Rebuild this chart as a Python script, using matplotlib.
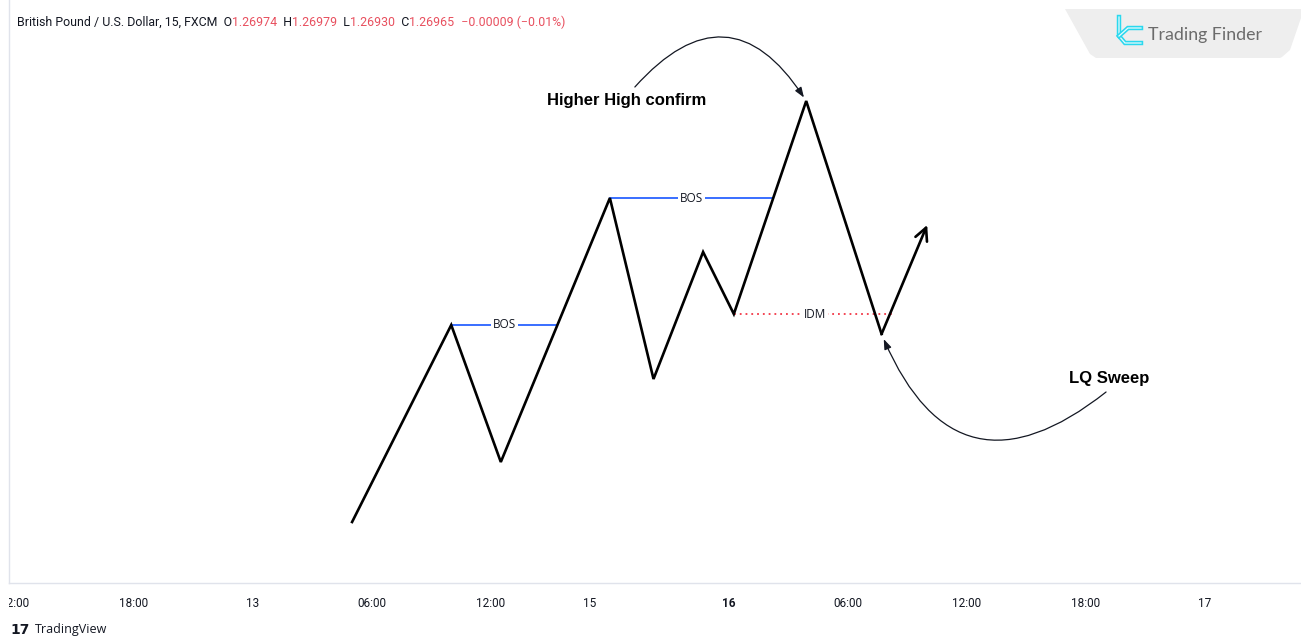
"""Smart-money structure sketch: BOS / IDM / LQ sweep on a GBPUSD 15m chart."""

import matplotlib

matplotlib.use("Agg")
import matplotlib.pyplot as plt
from matplotlib.patches import Polygon
from matplotlib.transforms import Bbox, TransformedBbox

W, H = 1301, 637

# time axis in hours relative to "13" (day 13, 00:00), price in GBPUSD
tick_hours = [-12, -6, 0, 6, 12, 17, 24, 30, 36, 42, 48]
tick_labels = ["12:00", "18:00", "13", "06:00", "12:00", "15", "16",
               "06:00", "12:00", "18:00", "17"]
x_range = (-12.3, 52.85)
price_range = (1.26600, 1.27183)

swing_hours = [5.0, 10.0, 12.5, 18.0, 20.2, 22.7, 24.25, 27.9, 31.7, 34.0]
swing_price = [1.26661, 1.26858, 1.26721, 1.26985, 1.26804,
               1.26931, 1.26869, 1.27082, 1.26849, 1.26958]

idm_end_hour = 32.4

hh_text_pos = (18.86, 1.27083)
hh_arrow_start = (19.26, 1.27096)
lq_text_pos = (43.17, 1.26804)
lq_arrow_start = (43.02, 1.26791)

header_parts = [
    ("British Pound / U.S. Dollar, 15, FXCM  O", "#131722"),
    ("1.26974", "#e8505f"),
    ("  H", "#131722"),
    ("1.26979", "#e8505f"),
    ("  L", "#131722"),
    ("1.26930", "#e8505f"),
    ("  C", "#131722"),
    ("1.26965", "#e8505f"),
    ("  \u22120.00009 (\u22120.01%)", "#e8505f"),
]

BLUE = "#2962ff"
RED = "#f23645"
INK = "#131722"


def px(x, y):
    return x / W, 1 - y / H


def level_cross(i0, i1, level):
    # hour where the leg swing[i0] -> swing[i1] crosses a price level
    t = (level - swing_price[i0]) / (swing_price[i1] - swing_price[i0])
    return swing_hours[i0] + t * (swing_hours[i1] - swing_hours[i0])


fig = plt.figure(figsize=(W / 100, H / 100), dpi=100)
fig.patch.set_facecolor("white")
ax = fig.add_axes([9 / W, (H - 583) / H, 1 - 9 / W, 583 / H])
ax.set_xlim(*x_range)
ax.set_ylim(*price_range)
for side in ("top", "right"):
    ax.spines[side].set_visible(False)
for side in ("left", "bottom"):
    ax.spines[side].set_color("#e0e3eb")
    ax.spines[side].set_linewidth(1.0)
ax.set_yticks([])
ax.set_xticks(tick_hours)
ax.set_xticklabels(tick_labels)
ax.tick_params(axis="x", length=0, pad=10, labelsize=8.5, labelcolor=INK)
for lbl in ax.get_xticklabels():
    lbl.set_fontfamily("Roboto")
    lbl.set_clip_box(TransformedBbox(Bbox([[9 / W, 0], [1, 1]]), fig.transFigure))
    lbl.set_clip_on(True)
    if lbl.get_text() == "16":
        lbl.set_fontweight("bold")

# zigzag price path, last leg as arrow
ax.plot(swing_hours[:-1], swing_price[:-1], color="black", lw=1.9,
        solid_joinstyle="miter", zorder=3)
ax.annotate("", xy=(swing_hours[-1], swing_price[-1]),
            xytext=(swing_hours[-2], swing_price[-2]),
            arrowprops=dict(arrowstyle="->,head_length=0.9,head_width=0.45",
                            lw=1.9, color="black", shrinkA=0, shrinkB=0),
            zorder=3)

# break of structure lines
bos_defs = [(1, level_cross(2, 3, swing_price[1])),
            (3, level_cross(6, 7, swing_price[3]))]
for i, x_end in bos_defs:
    x0, y0 = swing_hours[i], swing_price[i]
    ax.plot([x0, x_end], [y0, y0], color=BLUE, lw=1.3, zorder=2)
    ax.text((x0 + x_end) / 2, y0, "BOS", ha="center", va="center",
            fontsize=8.5, color=INK, family="Open Sans",
            bbox=dict(facecolor="white", edgecolor="none", pad=1.5), zorder=4)

# inducement line
x0, y0 = swing_hours[6], swing_price[6]
ax.plot([x0, idm_end_hour], [y0, y0], color=RED, lw=1.3, ls=(0, (1, 2.2)), zorder=2)
ax.text((x0 + idm_end_hour) / 2, y0, "IDM", ha="center", va="center",
        fontsize=8.5, color=INK, family="Open Sans",
        bbox=dict(facecolor="white", edgecolor="none", pad=1.5), zorder=4)

# curved callouts
ax.text(*hh_text_pos, "Higher High confirm", ha="center", va="center",
        fontsize=12, fontweight="bold", color="black", family="Liberation Sans")
ax.annotate("", xy=(swing_hours[7], swing_price[7]), xytext=hh_arrow_start,
            arrowprops=dict(arrowstyle="-|>,head_length=0.6,head_width=0.22",
                            connectionstyle="arc3,rad=-0.66", lw=0.9,
                            color=INK, shrinkA=0, shrinkB=3))
ax.text(*lq_text_pos, "LQ Sweep", ha="center", va="center",
        fontsize=12, fontweight="bold", color="black", family="Liberation Sans")
ax.annotate("", xy=(swing_hours[8], swing_price[8]), xytext=lq_arrow_start,
            arrowprops=dict(arrowstyle="-|>,head_length=0.6,head_width=0.22",
                            connectionstyle="arc3,rad=-0.66", lw=0.9,
                            color=INK, shrinkA=0, shrinkB=4))

# header legend, each piece chained to the previous one
anchor = fig.text(*px(17, 22), header_parts[0][0], color=header_parts[0][1],
                  fontsize=8.9, family="Roboto", va="center", ha="left")
for txt, col in header_parts[1:]:
    anchor = fig.add_artist(plt.Annotation(
        txt, xy=(1, 0.5), xycoords=anchor, va="center", ha="left",
        color=col, fontsize=8.9, family="Roboto"))

# Trading Finder badge
badge = [px(1065, 9), px(1301, 9), px(1301, 18), px(1290, 50), px(1282, 57),
         px(1280, 58), px(1096, 58), px(1090, 54)]
fig.add_artist(Polygon(badge, closed=True, transform=fig.transFigure,
                       facecolor="#eeeeee", edgecolor="none"))
icon_paths = [
    [(1119, 17), (1119, 36), (1125, 43), (1141, 43)],
    [(1119, 36), (1128, 28), (1141, 28)],
]
for pts in icon_paths:
    xs, ys = zip(*[px(*p) for p in pts])
    fig.add_artist(plt.Line2D(xs, ys, transform=fig.transFigure, color="#2ad8ee",
                              lw=3.2, solid_joinstyle="miter"))
    fig.add_artist(plt.Line2D(xs, ys, transform=fig.transFigure, color="#e9fbfd",
                              lw=0.9, solid_joinstyle="miter"))
fig.text(*px(1148, 35), "Trading Finder", fontsize=12.8, color="#6b6b6b",
         family="Lato", va="center", ha="left")

# TradingView footer
fig.text(*px(10, 630), "17", fontsize=10, fontweight="heavy", color=INK,
         family="DejaVu Sans", va="center", ha="left")
fig.text(*px(35, 630), "TradingView", fontsize=9, color=INK,
         family="Open Sans", va="center", ha="left")

fig.savefig("out.png", dpi=100, facecolor="white")
